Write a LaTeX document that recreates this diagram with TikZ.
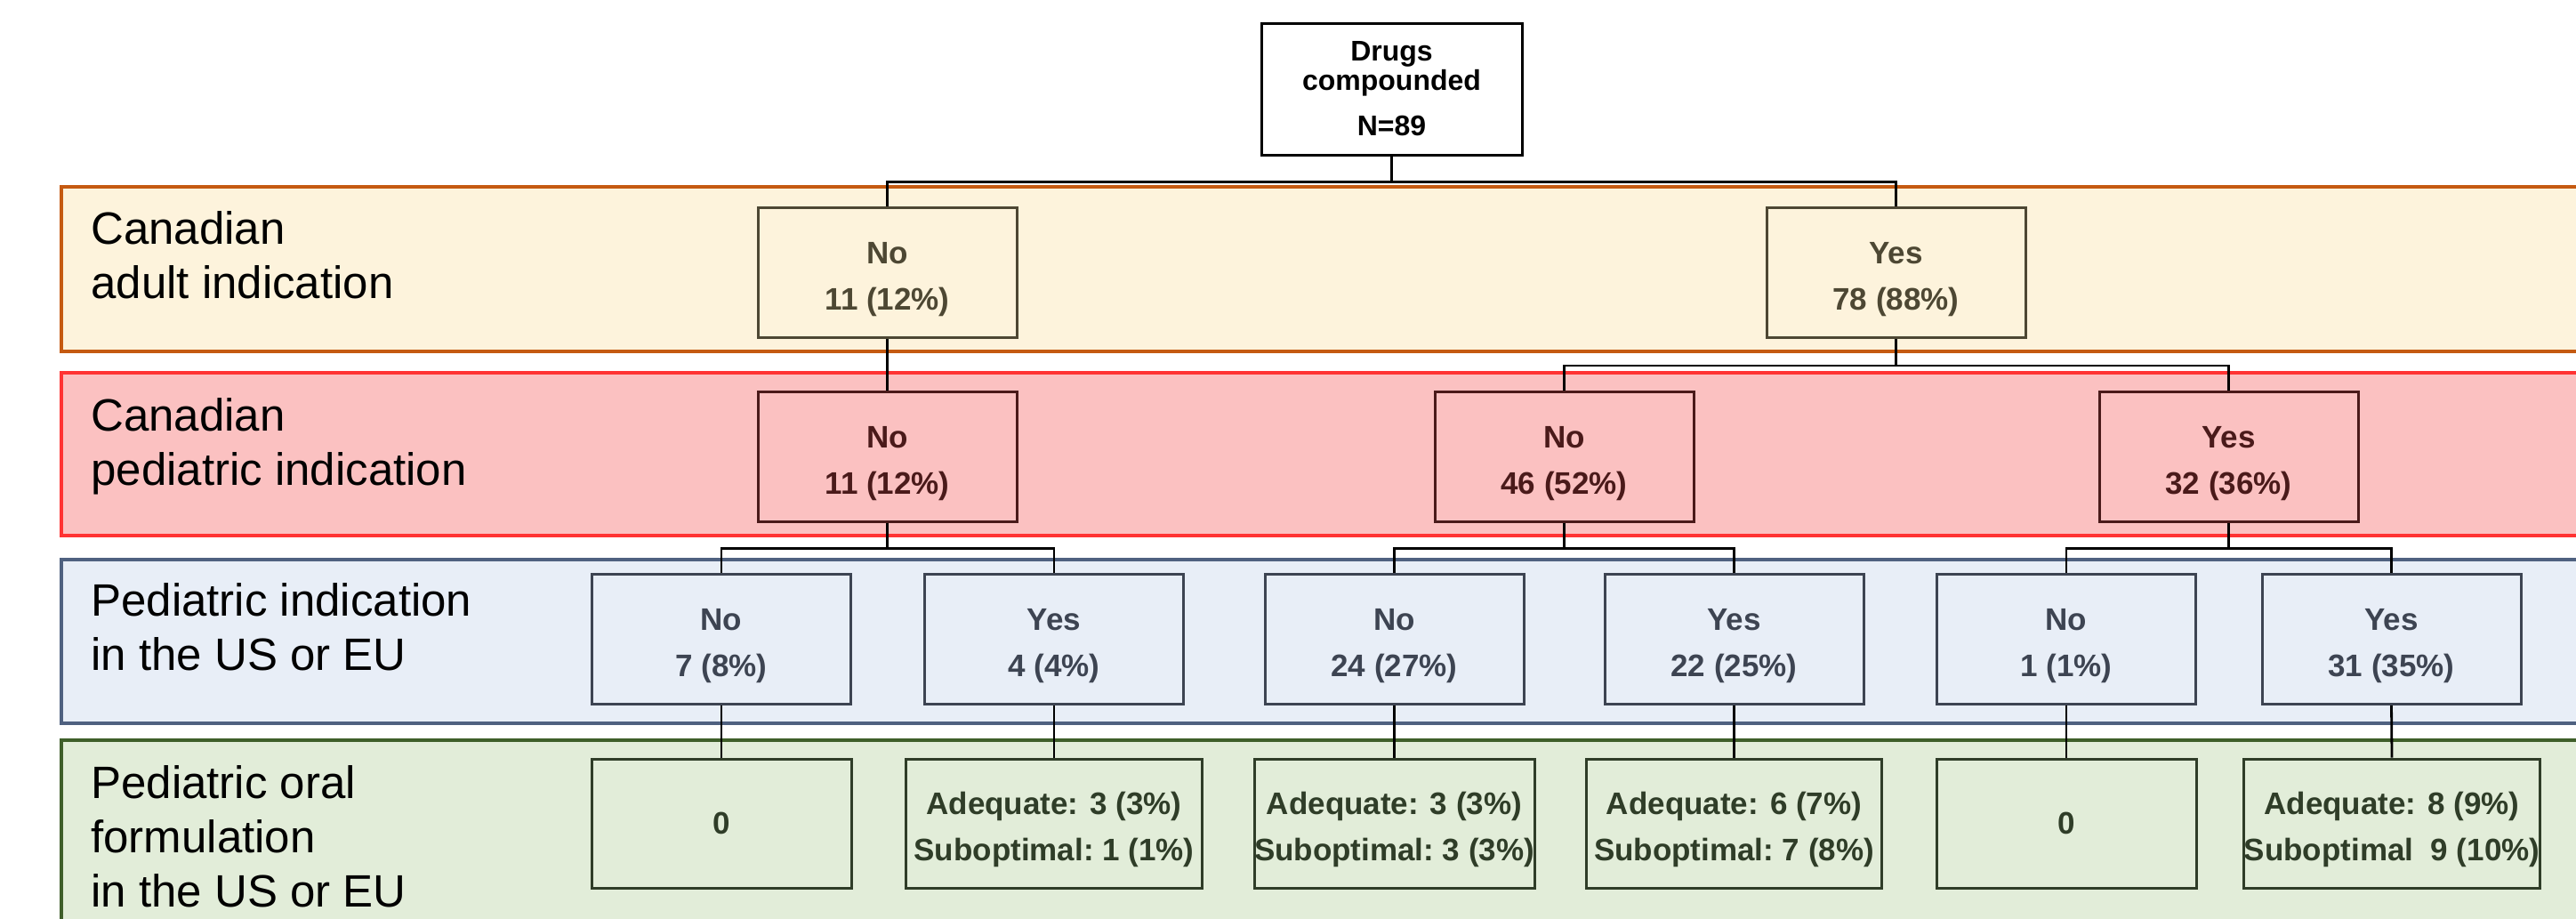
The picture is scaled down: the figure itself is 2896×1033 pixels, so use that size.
\documentclass[tikz,border=0pt]{standalone}
\usepackage{fontspec}
\setmainfont{Liberation Sans}
\definecolor{bafill}{HTML}{FDF3DC}
\definecolor{baline}{HTML}{C55A11}
\definecolor{babox}{HTML}{4D4733}
\definecolor{bbfill}{HTML}{FBC1C1}
\definecolor{bbline}{HTML}{FF3333}
\definecolor{bbbox}{HTML}{4A1A1A}
\definecolor{bcfill}{HTML}{E8EEF7}
\definecolor{bcline}{HTML}{4F6180}
\definecolor{bcbox}{HTML}{3D4452}
\definecolor{bdfill}{HTML}{E2EDD9}
\definecolor{bdline}{HTML}{3F5F2A}
\definecolor{bdbox}{HTML}{2F3D28}
\newcommand{\boxstrut}{\rule{0pt}{20pt}}
\begin{document}
\begin{tikzpicture}[x=0.5pt,y=-0.5pt,
  band/.style={line width=1.75pt},
  bandlabel/.style={anchor=north west, inner sep=0pt, align=left,
    font=\fontsize{25.5}{30.5}\selectfont, text=black},
  box/.style={draw, line width=1.5pt, minimum width=145.5pt, minimum height=73pt,
    inner sep=0pt, align=center, font=\bfseries\fontsize{17.5}{26}\selectfont},
  boxa/.style={box, draw=babox, fill=bafill, text=babox},
  boxb/.style={box, draw=bbbox, fill=bbfill, text=bbbox},
  boxc/.style={box, draw=bcbox, fill=bcfill, text=bcbox},
  boxd/.style={box, draw=bdbox, fill=bdfill, text=bdbox, minimum height=72.5pt},
  conn/.style={line width=1.4pt, draw=black, line join=miter},
]
\useasboundingbox (0,0) rectangle (2896,1033);
\clip (0,0) rectangle (2896,1033);

% bands
\path[band, draw=baline, fill=bafill] (69,210) rectangle (2940,395);
\path[band, draw=bbline, fill=bbfill] (69,419) rectangle (2940,602);
\path[band, draw=bcline, fill=bcfill] (69,629) rectangle (2940,813);
\path[band, draw=bdline, fill=bdfill] (69,832) rectangle (2940,1080);

% band labels
\node[bandlabel] (la) at (102,237) {Canadian\\adult indication};
\node[bandlabel] (lb) at (102,447) {Canadian\\pediatric indication};
\node[bandlabel] (lc) at (102,655) {Pediatric indication\\in the US or EU};
\node[bandlabel] (ld) at (102,860) {Pediatric oral\\formulation\\in the US or EU};

% root
\node[draw=black, line width=1.5pt, fill=white, minimum width=146.5pt, minimum height=74pt,
  inner sep=0pt, align=center, font=\bfseries\fontsize{16}{16.5}\selectfont]
  (root) at (1564.5,100) {Drugs\\compounded\\[9pt]N=89};

% level 1
\node[boxa] (a1) at (997.5,306.5) {\boxstrut No\\11 (12\%)};
\node[boxa] (a2) at (2131.5,306.5) {\boxstrut Yes\\78 (88\%)};

% level 2
\node[boxb] (p1) at (997.5,513) {\boxstrut No\\11 (12\%)};
\node[boxb] (p2) at (1758.5,513) {\boxstrut No\\46 (52\%)};
\node[boxb] (p3) at (2505.5,513) {\boxstrut Yes\\32 (36\%)};

% level 3
\node[boxc] (u1) at (811,718.5) {\boxstrut No\\7 (8\%)};
\node[boxc] (u2) at (1185,718.5) {\boxstrut Yes\\4 (4\%)};
\node[boxc] (u3) at (1567.5,718.5) {\boxstrut No\\24 (27\%)};
\node[boxc] (u4) at (1949.5,718.5) {\boxstrut Yes\\22 (25\%)};
\node[boxc] (u5) at (2323,718.5) {\boxstrut No\\1 (1\%)};
\node[boxc] (u6) at (2688.5,718.5) {\boxstrut Yes\\31 (35\%)};

% level 4
\node[boxd, minimum width=146pt] (f1) at (811,925.5) {0};
\node[boxd, minimum width=166.5pt] (f2) at (1185,925.5) {\boxstrut Adequate: 3 (3\%)\\Suboptimal:\ 1 (1\%)};
\node[boxd, minimum width=156.5pt] (f3) at (1567.5,925.5) {\boxstrut Adequate: 3 (3\%)\\Suboptimal:\ 3 (3\%)};
\node[boxd, minimum width=166pt] (f4) at (1949.5,925.5) {\boxstrut Adequate: 6 (7\%)\\Suboptimal:\ 7 (8\%)};
\node[boxd, minimum width=146pt] (f5) at (2323,925.5) {0};
\node[boxd, minimum width=161pt] (f6) at (2689,925.5) {\boxstrut Adequate: 8 (9\%)\\Suboptimal\ \ 9 (10\%)};

% connectors
\draw[conn] (root.south) -- ++(0,29) -| (a1.north);
\draw[conn] (root.south) -- ++(0,29) -| (a2.north);
\draw[conn] (a1.south) -- (p1.north);
\draw[conn] (a2.south) -- ++(0,30) -| (p2.north);
\draw[conn] (a2.south) -- ++(0,30) -| (p3.north);
\draw[conn] (p1.south) -- ++(0,29) -| (u1.north);
\draw[conn] (p1.south) -- ++(0,29) -| (u2.north);
\draw[conn] (p2.south) -- ++(0,29) -| (u3.north);
\draw[conn] (p2.south) -- ++(0,29) -| (u4.north);
\draw[conn] (p3.south) -- ++(0,29) -| (u5.north);
\draw[conn] (p3.south) -- ++(0,29) -| (u6.north);
\draw[conn] (u1.south) -- (f1.north);
\draw[conn] (u2.south) -- (f2.north);
\draw[conn] (u3.south) -- (f3.north);
\draw[conn] (u4.south) -- (f4.north);
\draw[conn] (u5.south) -- (f5.north);
\draw[conn] (u6.south) -- (f6.north);
\end{tikzpicture}
\end{document}
